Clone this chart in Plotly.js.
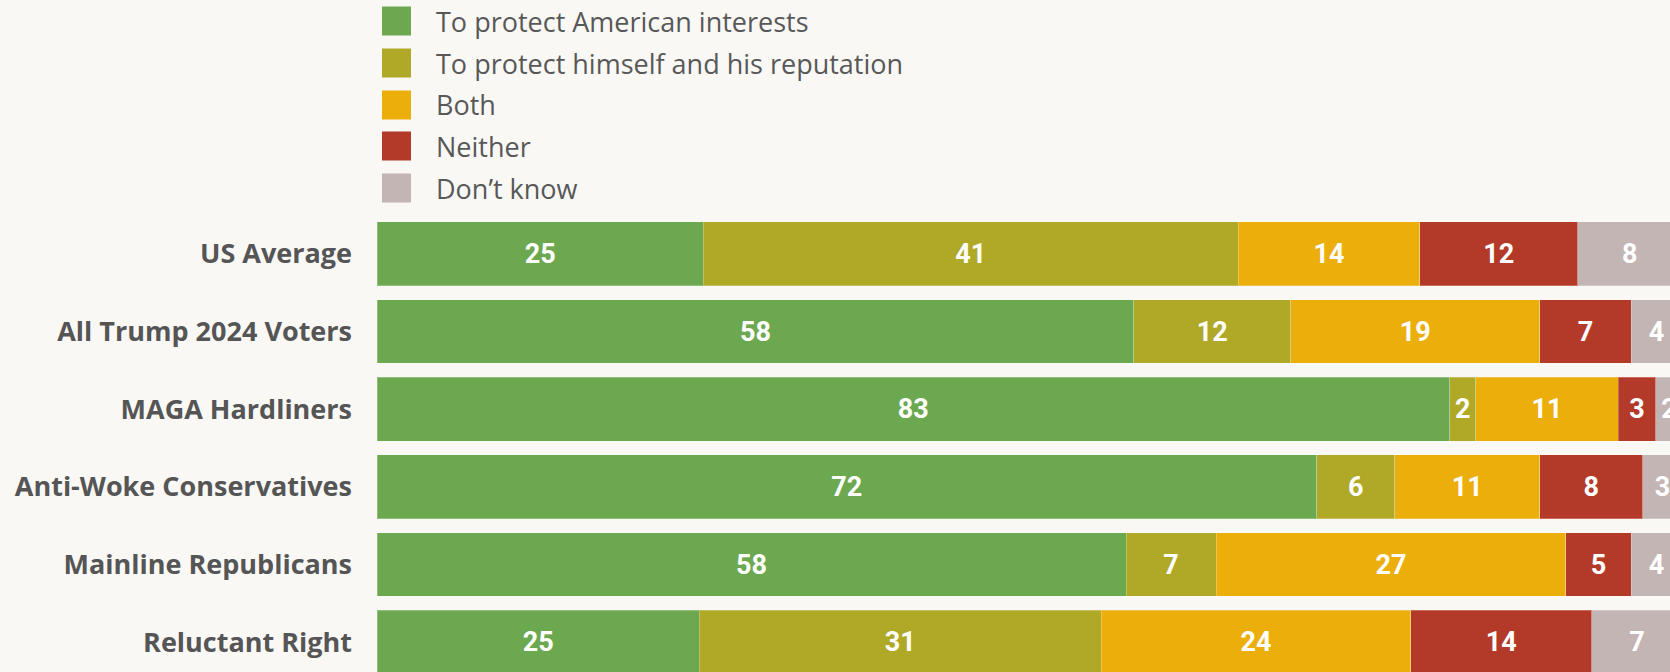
<!DOCTYPE html>
<html>
<head>
<meta charset="utf-8">
<script src="https://cdn.plot.ly/plotly-3.0.1.min.js"></script>
<style>
html,body{margin:0;padding:0;background:#f9f8f5;overflow:hidden;width:1670px;height:672px;}
#chart{width:1682px;height:681px;}
</style>
</head>
<body>
<div id="chart"></div>
<script>
// Groups (top to bottom)
const groups = ["US Average", "All Trump 2024 Voters", "MAGA Hardliners", "Anti-Woke Conservatives", "Mainline Republicans", "Reluctant Right"];
// Series names and colours
const seriesNames = ["To protect American interests", "To protect himself and his reputation", "Both", "Neither", "Don’t know"];
const seriesColors = ["#6ca84f", "#b0a927", "#ecae0b", "#b33a28", "#c3b5b4"];
// Shares (%)
const protectAmerica = [25, 58, 82.2, 72, 57.4, 24.7];
const protectHimself = [41, 12, 2.0, 6, 6.9, 30.8];
const both = [13.9, 19.1, 10.9, 11.1, 26.8, 23.7];
const neither = [12.1, 7, 2.9, 7.9, 5.0, 13.9];
const dontKnow = [8, 3.9, 2.0, 3, 3.9, 6.9];
// Labels printed on the bars
const protectAmericaLbl = [25, 58, 83, 72, 58, 25];
const protectHimselfLbl = [41, 12, 2, 6, 7, 31];
const bothLbl = [14, 19, 11, 11, 27, 24];
const neitherLbl = [12, 7, 3, 8, 5, 14];
const dontKnowLbl = [8, 4, 2, 3, 4, 7];

const seriesValues = [protectAmerica, protectHimself, both, neither, dontKnow];
const seriesLabels = [protectAmericaLbl, protectHimselfLbl, bothLbl, neitherLbl, dontKnowLbl];

const W = 1682, H = 681, ML = 377, MT = 215;
const plotW = W - ML, plotH = H - MT;

const traces = seriesNames.map((name, i) => ({
  type: "bar",
  orientation: "h",
  name: name,
  y: groups,
  x: seriesValues[i],
  text: seriesLabels[i].map(String),
  textposition: "inside",
  insidetextanchor: "middle",
  textangle: 0,
  constraintext: "none",
  textfont: {family: "Roboto, 'Open Sans', sans-serif", size: 27, color: "#ffffff", weight: 700},
  marker: {color: seriesColors[i], line: {color: "rgba(255,255,255,0.25)", width: 1}},
  hoverinfo: "none",
  cliponaxis: true
}));

// Custom legend (top-left, above bars)
const legendY = [21, 63, 105, 146, 188];
const sq = 29;
const shapes = [], annotations = [];
seriesNames.forEach((name, i) => {
  const cy = legendY[i];
  shapes.push({
    type: "rect", xref: "paper", yref: "paper",
    x0: (382 - ML) / plotW, x1: (382 + sq - ML) / plotW,
    y0: (H - (cy + sq / 2)) / plotH, y1: (H - (cy - sq / 2)) / plotH,
    line: {width: 0}, fillcolor: seriesColors[i]
  });
  annotations.push({
    xref: "paper", yref: "paper",
    x: (434 - ML) / plotW, y: (H - cy) / plotH,
    xanchor: "left", yanchor: "middle",
    text: name, showarrow: false,
    font: {family: "'Open Sans', sans-serif", size: 27, color: "#585858"}
  });
});

const layout = {
  width: W, height: H,
  barmode: "stack",
  bargap: 0.18,
  showlegend: false,
  paper_bgcolor: "#f9f8f5",
  plot_bgcolor: "#f9f8f5",
  margin: {l: ML, r: 0, t: MT, b: 0, pad: 0},
  xaxis: {range: [0, 100], visible: false, fixedrange: true},
  yaxis: {
    autorange: "reversed",
    showgrid: false, zeroline: false, showline: false,
    ticks: "", ticklabelstandoff: 24,
    tickfont: {family: "'Open Sans', sans-serif", size: 27, color: "#555555", weight: 700},
    automargin: false, fixedrange: true
  },
  shapes: shapes,
  annotations: annotations
};

Plotly.newPlot("chart", traces, layout, {displayModeBar: false, staticPlot: true});
</script>
</body>
</html>
